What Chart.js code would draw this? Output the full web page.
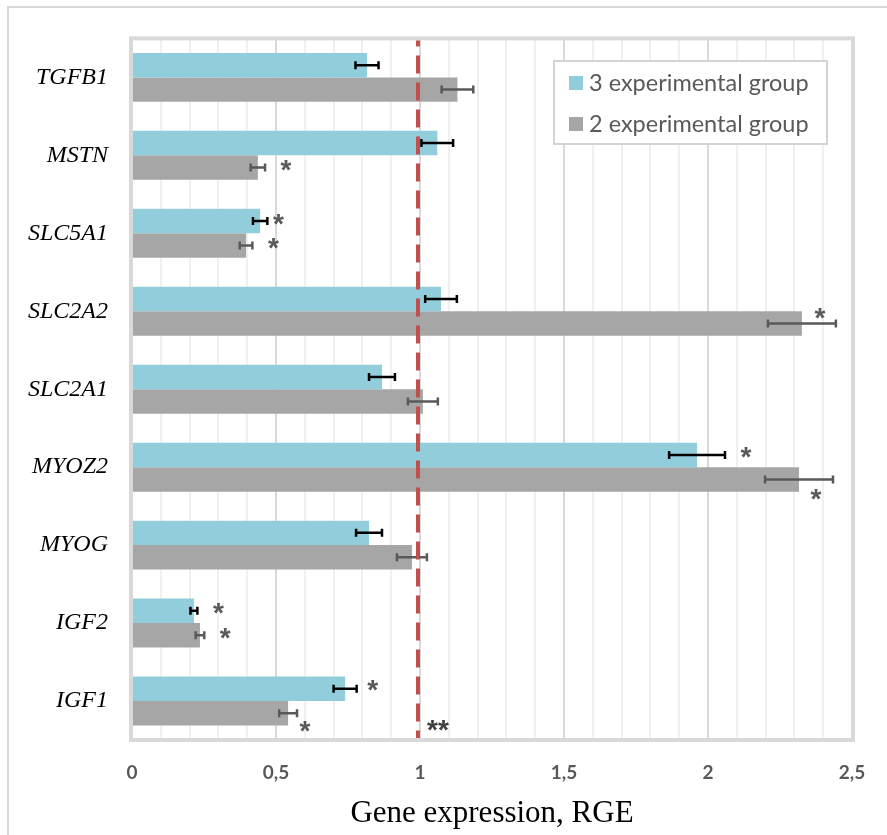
<!DOCTYPE html>
<html>
<head>
<meta charset="utf-8">
<script src="https://cdn.jsdelivr.net/npm/chart.js@4.4.1/dist/chart.umd.min.js"></script>
<style>
  html, body { margin: 0; padding: 0; background: #fff; }
  #wrap { width: 887px; height: 835px; position: relative; }
</style>
</head>
<body>
<div id="wrap"><canvas id="myChart"></canvas></div>
<script>
// datos (de arriba hacia abajo)
const genes = ["TGFB1", "MSTN", "SLC5A1", "SLC2A2", "SLC2A1", "MYOZ2", "MYOG", "IGF2", "IGF1"];
const group3 = [0.816, 1.06, 0.445, 1.073, 0.868, 1.962, 0.823, 0.215, 0.74];
const group3Err = [0.04, 0.055, 0.025, 0.055, 0.045, 0.097, 0.045, 0.012, 0.04];
const group2 = [1.13, 0.437, 0.396, 2.326, 1.01, 2.316, 0.972, 0.236, 0.542];
const group2Err = [0.055, 0.025, 0.022, 0.118, 0.052, 0.118, 0.052, 0.015, 0.031];
const group3Marks = ["", "", "*", "", "", "*", "", "*", "*"];
const group2Marks = ["", "*", "*", "*", "", "*", "", "*", "*"];
const seriesNames = ["3 experimental group", "2 experimental group"];
const controlLevel = 1;
const controlMark = "**";

const colors = ["#92cddc", "#a6a6a6"];
const errColors = ["#000000", "#595959"];
const errs = [group3Err, group2Err];
const marks = [group3Marks, group2Marks];

// donde va cada asterisco respecto al final de la barra de error
const markShift = {
  "0-2": { dx: 11, dy: -2 },
  "0-8": { dx: 16, dy: -3 },
  "1-3": { dx: -16, dy: -10 },
  "1-5": { dx: -17, dy: 15 },
  "1-8": { dx: 8, dy: 13 },
};

function isMajor(v) {
  return Math.abs(v * 2 - Math.round(v * 2)) < 1e-6;
}

function drawMark(c, text, x, y) {
  const m = c.measureText(text);
  c.fillText(text, x, y + (m.actualBoundingBoxAscent - m.actualBoundingBoxDescent) / 2);
}

const extras = {
  id: "extras",
  beforeDraw(chart) {
    const c = chart.ctx;
    c.save();
    c.fillStyle = "#fff";
    c.fillRect(0, 0, chart.width, chart.height);
    c.strokeStyle = "#d9d9d9";
    c.lineWidth = 2;
    c.beginPath();
    c.moveTo(8, chart.height);
    c.lineTo(8, 7);
    c.lineTo(chart.width, 7);
    c.stroke();
    c.restore();
  },
  beforeDatasetsDraw(chart) {
    const a = chart.chartArea;
    const c = chart.ctx;
    c.save();
    c.strokeStyle = "#d9d9d9";
    c.lineWidth = 4;
    c.strokeRect(a.left - 1, a.top, a.right - a.left + 2, a.bottom - a.top);
    c.restore();
  },
  afterDatasetsDraw(chart) {
    const c = chart.ctx;
    const xs = chart.scales.x;
    const a = chart.chartArea;
    c.save();
    // barras de error
    chart.data.datasets.forEach((ds, d) => {
      const meta = chart.getDatasetMeta(d);
      meta.data.forEach((bar, i) => {
        const v = ds.data[i], e = errs[d][i];
        const x1 = xs.getPixelForValue(v - e), x2 = xs.getPixelForValue(v + e);
        c.strokeStyle = errColors[d];
        c.lineWidth = 2.5;
        c.beginPath();
        c.moveTo(x1, bar.y); c.lineTo(x2, bar.y);
        c.moveTo(x1, bar.y - 4); c.lineTo(x1, bar.y + 4);
        c.moveTo(x2, bar.y - 4); c.lineTo(x2, bar.y + 4);
        c.stroke();
      });
    });
    // linea del control
    const xc = xs.getPixelForValue(controlLevel) - 2;
    c.strokeStyle = "#c0504d";
    c.lineWidth = 4;
    c.setLineDash([18, 9]);
    c.lineDashOffset = 12;
    c.beginPath();
    c.moveTo(xc, a.top + 2);
    c.lineTo(xc, a.bottom - 2);
    c.stroke();
    c.setLineDash([]);
    // asteriscos
    c.fillStyle = "#595959";
    c.font = "bold 28px 'Liberation Sans'";
    c.textAlign = "center";
    c.textBaseline = "alphabetic";
    chart.data.datasets.forEach((ds, d) => {
      const meta = chart.getDatasetMeta(d);
      meta.data.forEach((bar, i) => {
        const t = marks[d][i];
        if (!t) return;
        const s = markShift[d + "-" + i] || { dx: 21, dy: -2 };
        const xe = xs.getPixelForValue(ds.data[i] + errs[d][i]);
        drawMark(c, t, xe + s.dx, bar.y + s.dy);
      });
    });
    c.fillStyle = "#404040";
    drawMark(c, controlMark, xc + 20, a.bottom - 15);
    c.restore();
  },
  afterDraw(chart) {
    // leyenda dentro del area
    const c = chart.ctx;
    c.save();
    c.fillStyle = "#fff";
    c.fillRect(554, 61, 273, 83);
    c.strokeStyle = "#d4d4d4";
    c.lineWidth = 2;
    c.strokeRect(554, 61, 273, 83);
    c.font = "23.5px Lato";
    c.textBaseline = "middle";
    c.textAlign = "left";
    seriesNames.forEach((name, k) => {
      const y = 83 + k * 41;
      c.fillStyle = colors[k];
      c.fillRect(569, y - 7, 14, 14);
      c.fillStyle = "#595959";
      c.fillText(name, 589, y);
    });
    c.restore();
  },
};

const ctx = document.getElementById("myChart");
new Chart(ctx, {
  type: "bar",
  data: {
    labels: genes,
    datasets: [
      { label: seriesNames[0], data: group3, backgroundColor: colors[0], borderWidth: 0 },
      { label: seriesNames[1], data: group2, backgroundColor: colors[1], borderWidth: 0 },
    ],
  },
  options: {
    indexAxis: "y",
    responsive: true,
    maintainAspectRatio: false,
    animation: false,
    categoryPercentage: 0.628,
    barPercentage: 1.0,
    layout: { padding: { left: 0, right: 35, top: 38, bottom: 0 } },
    plugins: {
      legend: { display: false },
      tooltip: { enabled: false },
    },
    scales: {
      x: {
        min: 0,
        max: 2.5,
        afterFit(scale) { scale.height = 95; },
        border: { display: false },
        grid: {
          drawTicks: false,
          lineWidth: 2,
          color: (c) => (c.tick && isMajor(c.tick.value) ? "#d9d9d9" : "#f0f0f0"),
        },
        ticks: {
          stepSize: 0.1,
          autoSkip: false,
          maxRotation: 0,
          padding: 21,
          color: "#595959",
          font: { family: "Lato", size: 19, weight: "bold" },
          callback: (v) => (isMajor(v) ? String(Math.round(v * 2) / 2).replace(".", ",") : ""),
        },
        title: {
          display: true,
          text: "Gene expression, RGE",
          color: "#000",
          font: { family: "'Liberation Serif'", size: 31 },
          padding: { top: 0, bottom: 3 },
        },
      },
      y: {
        afterFit(scale) { scale.width = 132; },
        border: { display: false },
        grid: { display: false, drawTicks: false },
        ticks: {
          padding: 24,
          color: "#000",
          font: { family: "'Liberation Serif'", size: 24, style: "italic" },
        },
      },
    },
  },
  plugins: [extras],
});
</script>
</body>
</html>
